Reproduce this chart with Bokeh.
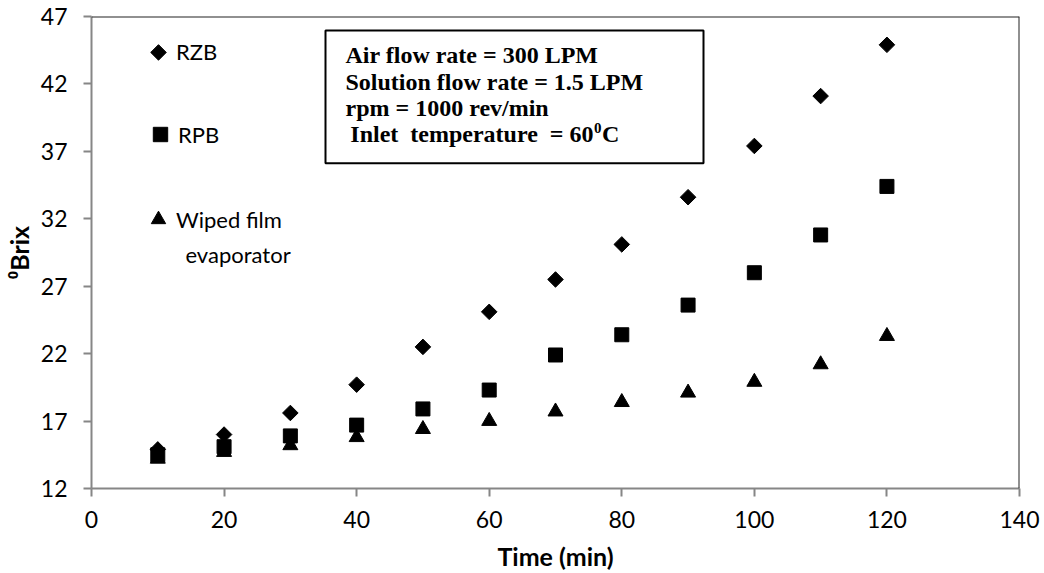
import math
from bokeh.plotting import figure
from bokeh.models import (Legend, LegendItem, Label, BoxAnnotation, Span,
                          FixedTicker, Range1d)
from bokeh.embed import file_html
from bokeh.resources import INLINE

# ---- data ----
time_min = [10, 20, 30, 40, 50, 60, 70, 80, 90, 100, 110, 120]
rzb = [14.9, 16.0, 17.6, 19.7, 22.5, 25.1, 27.5, 30.1, 33.6, 37.4, 41.1, 44.9]
rpb = [14.5, 15.1, 15.9, 16.7, 17.9, 19.3, 21.9, 23.4, 25.6, 28.0, 30.8, 34.4]
wfe = [14.2, 14.7, 15.2, 15.8, 16.4, 17.0, 17.7, 18.4, 19.1, 19.9, 21.2, 23.3]
x_ticks = [0, 20, 40, 60, 80, 100, 120, 140]
y_ticks = [12, 17, 22, 27, 32, 37, 42, 47]
series_names = ["RZB", "RPB", "Wiped film", "evaporator"]
info_lines = ["Air flow rate = 300 LPM",
              "Solution flow rate = 1.5 LPM",
              "rpm = 1000 rev/min"]
info_last = "Inlet\u00a0 temperature\u00a0 = 60"
info_sup = "0"
info_unit = "C"

W, H = 1044, 573
FL, FR, FT, FB = 91, 1019, 16, 489
XMIN, XMAX, YMIN, YMAX = 0, 140, 12, 47

def px2x(px):
    return XMIN + (px - FL) / (FR - FL) * (XMAX - XMIN)

def px2y(py):
    return YMIN + (FB - py) / (FB - FT) * (YMAX - YMIN)

p = figure(width=W, height=H, output_backend="svg", toolbar_location=None,
           x_range=Range1d(XMIN, XMAX), y_range=Range1d(YMIN, YMAX),
           min_border_left=FL, min_border_right=W - FR,
           min_border_top=FT, min_border_bottom=H - FB)
p.xgrid.visible = False
p.ygrid.visible = False
p.outline_line_color = None
p.background_fill_color = "white"
p.border_fill_color = "white"

FONT = "Lato"
for ax in (p.xaxis[0], p.yaxis[0]):
    ax.axis_line_color = "#868686"
    ax.axis_line_width = 2
    ax.major_tick_line_color = "#868686"
    ax.major_tick_line_width = 2
    ax.major_tick_out = 8
    ax.major_tick_in = 0
    ax.minor_tick_line_color = None
    ax.major_label_text_font = FONT
    ax.major_label_text_font_size = "23px"
    ax.major_label_text_color = "black"
    ax.axis_label_text_font = FONT
    ax.axis_label_text_font_size = "25px"
    ax.axis_label_text_font_style = "bold"
    ax.axis_label_text_color = "black"

p.xaxis.ticker = FixedTicker(ticks=x_ticks)
p.yaxis.ticker = FixedTicker(ticks=y_ticks)
p.xaxis.axis_label = "Time (min)"
p.yaxis.axis_label = "\u2070Brix"
p.xaxis.major_label_standoff = 14
p.yaxis.major_label_standoff = 16
p.xaxis.axis_label_standoff = 10
p.yaxis.axis_label_standoff = 4

# top and right frame borders
p.add_layout(Span(location=XMAX, dimension="height", line_color="#222222", line_width=2))
p.add_layout(Span(location=YMAX, dimension="width", line_color="#222222", line_width=2))

r1 = p.scatter(time_min, rzb, marker="square", angle=math.pi / 4, size=11,
               fill_color="black", line_color="black")
r2 = p.scatter(time_min, rpb, marker="square", size=14,
               fill_color="black", line_color="black")
r3 = p.scatter(time_min, wfe, marker="triangle", size=15,
               fill_color="black", line_color="black")

# legend key for RZB: rotated square (legend glyphs ignore angle)
p.scatter([px2x(158)], [px2y(52)], marker="square", angle=math.pi / 4, size=11,
          fill_color="black", line_color="black")
r1_dummy = p.scatter([], [], marker="square", fill_alpha=0, line_alpha=0)

GB = 36  # legend glyph box -> marker size 0.4*GB

def make_legend(renderer, label, key_cx, center_py):
    leg = Legend(items=[LegendItem(label=label, renderers=[renderer])],
                 location=(key_cx - GB / 2 - FL, FB - (center_py + GB / 2)),
                 border_line_color=None, background_fill_alpha=0,
                 padding=0, margin=0, glyph_width=GB, glyph_height=GB,
                 label_height=GB, label_standoff=-4,
                 label_text_font=FONT, label_text_font_size="22px",
                 label_text_color="black")
    p.add_layout(leg)

make_legend(r1_dummy, series_names[0], 158, 52)
make_legend(r2, series_names[1], 160, 135)
make_legend(r3, series_names[2], 158, 220)
p.add_layout(Label(x=px2x(185), y=px2y(255), text=series_names[3],
                   text_font=FONT, text_font_size="22px", text_color="black",
                   text_baseline="alphabetic", text_align="left"))

# info box
p.add_layout(BoxAnnotation(left=px2x(325), right=px2x(703), top=px2y(30), bottom=px2y(163),
                           fill_color="white", fill_alpha=1,
                           line_color="black", line_alpha=1, line_width=2))
TFONT = dict(text_font="Liberation Serif", text_font_style="bold",
             text_color="black", text_baseline="alphabetic")
for i, txt in enumerate(info_lines):
    p.add_layout(Label(x=px2x(345), y=px2y(55 + i * 26.4), text=txt,
                       text_font_size="24px", text_align="left", **TFONT))
base_last = 55 + 3 * 26.4
p.add_layout(Label(x=px2x(593), y=px2y(base_last), text=info_last,
                   text_font_size="24px", text_align="right", **TFONT))
p.add_layout(Label(x=px2x(593.5), y=px2y(base_last - 6.5), text=info_sup,
                   text_font_size="15px", text_align="left", **TFONT))
p.add_layout(Label(x=px2x(601.5), y=px2y(base_last), text=info_unit,
                   text_font_size="24px", text_align="left", **TFONT))

open("out.html", "w").write(file_html(p, INLINE))
